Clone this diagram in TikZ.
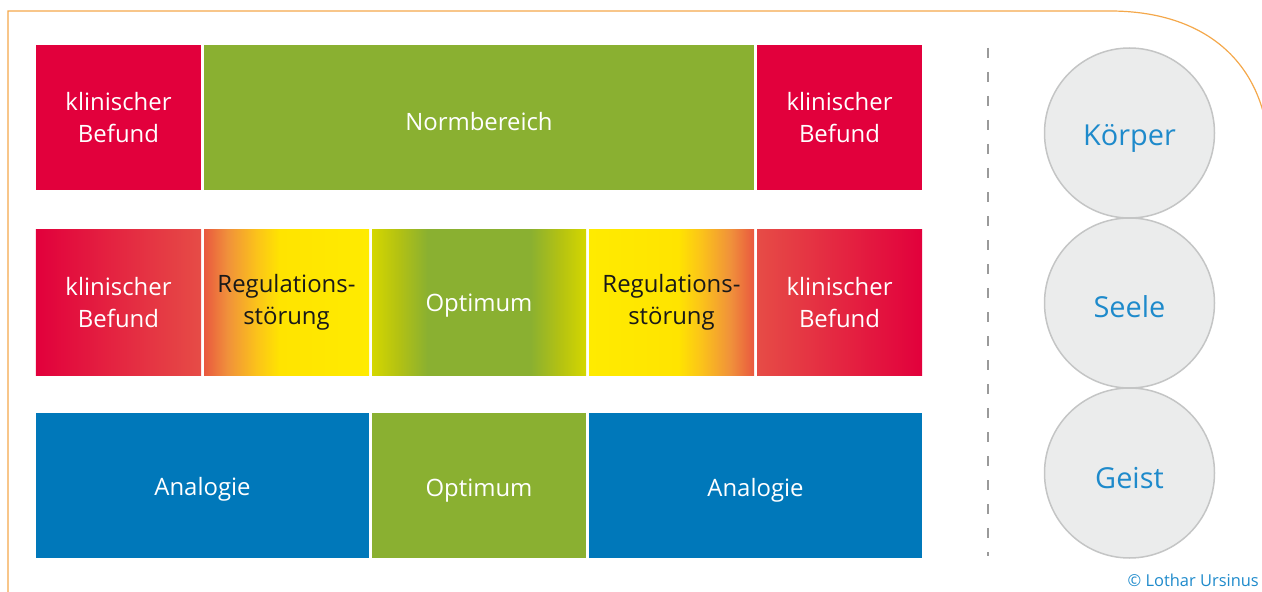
\documentclass[tikz,border=0pt]{standalone}
\usepackage{fontspec}
\setmainfont{Open Sans}
\definecolor{cRed}{HTML}{E2003C}
\definecolor{cRedL}{HTML}{E64C46}
\definecolor{cGreen}{HTML}{8AB031}
\definecolor{cBlue}{HTML}{0078BA}
\definecolor{cOrR}{HTML}{E9583F}
\definecolor{cOr}{HTML}{F0903B}
\definecolor{cYO}{HTML}{FBC31A}
\definecolor{cYel}{HTML}{FFE400}
\definecolor{cYel2}{HTML}{FFEB00}
\definecolor{cYG}{HTML}{D4D700}
\definecolor{cYG2}{HTML}{B4C212}
\definecolor{cFrame}{HTML}{F4A84B}
\definecolor{cCircle}{HTML}{EBECEC}
\definecolor{cCircleD}{HTML}{C4C5C5}
\definecolor{cText}{HTML}{1E8ACB}
\definecolor{cDash}{HTML}{9A9A9A}
\pgfdeclarehorizontalshading{redLeft}{100bp}{color(0bp)=(cRed); color(25bp)=(cRed); color(75bp)=(cRedL); color(100bp)=(cRedL)}
\pgfdeclarehorizontalshading{redRight}{100bp}{color(0bp)=(cRedL); color(25bp)=(cRedL); color(75bp)=(cRed); color(100bp)=(cRed)}
\pgfdeclarehorizontalshading{regLeft}{100bp}{color(0bp)=(cOrR); color(25bp)=(cOrR); color(32bp)=(cOr); color(41bp)=(cYO); color(48bp)=(cYel); color(75bp)=(cYel2); color(100bp)=(cYel2)}
\pgfdeclarehorizontalshading{regRight}{100bp}{color(0bp)=(cYel2); color(25bp)=(cYel2); color(52bp)=(cYel); color(59bp)=(cYO); color(68bp)=(cOr); color(75bp)=(cOrR); color(100bp)=(cOrR)}
\pgfdeclarehorizontalshading{optShade}{100bp}{color(0bp)=(cYG); color(25bp)=(cYG); color(31bp)=(cYG2); color(38bp)=(cGreen); color(62bp)=(cGreen); color(69bp)=(cYG2); color(75bp)=(cYG); color(100bp)=(cYG)}
\tikzset{
  box/.style={inner sep=0pt, minimum height=145bp, align=center, text=white,
    font=\fontsize{24}{32}\selectfont},
  narrow/.style={box, minimum width=165bp},
  dark/.style={text=black!90},
  lbl/.style={inner sep=0pt, text=white, font=\fontsize{24}{32}\selectfont},
  ring/.style={circle, draw=cCircleD, line width=1.5bp, fill=cCircle, minimum size=170bp,
    inner sep=0pt},
  ringtext/.style={inner sep=0pt, text=cText, font=\fontsize{29}{32}\selectfont}
}
\begin{document}
\begin{tikzpicture}[x=1bp, y=-1bp]
\useasboundingbox (0,0) rectangle (1262,592);
% frame
\coordinate (fb) at (8,592);
\coordinate (ftl) at (8,11);
\coordinate (fc) at (1110,11);
\coordinate (fe) at (1266,124);
\draw[cFrame, line width=1.2bp] (fb) -- (ftl) -- (fc) .. controls (1195,11) and (1252,52) .. (fe);
% row 1
\node[narrow, fill=cRed] (a1) at (118.5,117.5) {klinischer\\Befund};
\node[box, minimum width=550bp, fill=cGreen] (n1) at (479,117.5) {};
\node[lbl] (n1t) at ([yshift=-4bp]n1.center) {Normbereich};
\node[narrow, fill=cRed] (e1) at (839.5,117.5) {klinischer\\Befund};
% row 2
\node[narrow, shading=redLeft] (a2) at (118.5,302.5) {klinischer\\Befund};
\node[narrow, dark, shading=regLeft] (b2) at (286.5,302.5) {Regulations-\\störung};
\node[box, minimum width=214bp, shading=optShade] (c2) at (479,302.5) {};
\node[lbl] (c2t) at ([yshift=-3bp]c2.center) {Optimum};
\node[narrow, dark, shading=regRight] (d2) at (671.5,302.5) {Regulations-\\störung};
\node[narrow, shading=redRight] (e2) at (839.5,302.5) {klinischer\\Befund};
% row 3
\node[box, minimum width=333bp, fill=cBlue] (a3) at (202.5,485.5) {};
\node[lbl] (a3t) at ([yshift=-4bp]a3.center) {Analogie};
\node[box, minimum width=214bp, fill=cGreen] (c3) at (479,485.5) {};
\node[lbl] (c3t) at ([yshift=-5bp]c3.center) {Optimum};
\node[box, minimum width=333bp, fill=cBlue] (d3) at (755.5,485.5) {};
\node[lbl] (d3t) at ([yshift=-5bp]d3.center) {Analogie};
% dashed divider
\coordinate (dt) at (988,48);
\coordinate (db) at (988,556);
\draw[cDash, line width=1.6bp, dash pattern=on 10bp off 14bp] (dt) -- (db);
% circles
\node[ring] (k) at (1129.5,133) {};
\node[ringtext] (kt) at ([yshift=-5bp]k.center) {Körper};
\node[ring] (s) at (1129.5,303) {};
\node[ringtext] (st) at ([yshift=-4bp]s.center) {Seele};
\node[ring] (g) at (1129.5,473) {};
\node[ringtext] (gt) at ([yshift=-5bp]g.center) {Geist};
% copyright
\node[anchor=east, inner sep=0pt, text=cText, font=\fontsize{16.5}{18}\selectfont] (cp) at (1259,580) {© Lothar Ursinus};
\end{tikzpicture}
\end{document}
